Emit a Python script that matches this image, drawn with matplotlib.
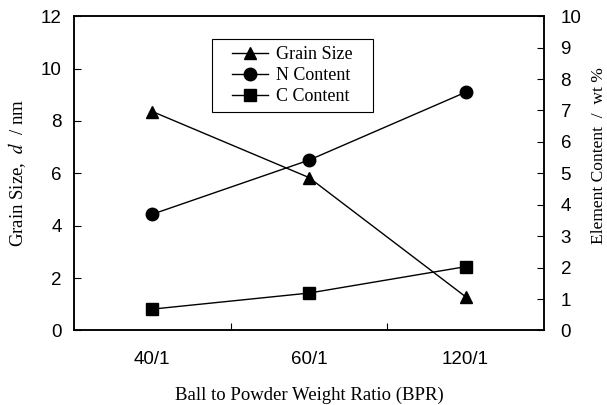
"""
Grain size and N / C content of milled powder versus ball-to-powder weight ratio.
Grain size on the left axis, element content on the right axis.
"""

import matplotlib

matplotlib.use("Agg")
import matplotlib.pyplot as plt
from matplotlib.lines import Line2D
from matplotlib.patches import Rectangle

# data
bpr_labels = ["40/1", "60/1", "120/1"]
grain_size_nm = [8.36, 5.84, 1.29]
n_content_wt = [3.70, 5.42, 7.58]
c_content_wt = [0.68, 1.19, 2.03]

plt.rcParams["mathtext.fontset"] = "stix"

SANS = "Liberation Sans"
SERIF = "Liberation Serif"


def main():
    fig = plt.figure(figsize=(6.07, 4.05), dpi=100)
    ax = fig.add_axes([0.122, 0.184, 0.774, 0.776])
    ax2 = ax.twinx()

    x = list(range(len(bpr_labels)))
    line_kw = dict(color="black", lw=1.0, markersize=9)

    ax.plot(x, grain_size_nm, marker="^", **line_kw)
    ax2.plot(x, n_content_wt, marker="o", **line_kw)
    ax2.plot(x, c_content_wt, marker="s", **line_kw)

    ax.set_xlim(-0.5, len(bpr_labels) - 0.5)
    ax.set_ylim(0, 12)
    ax2.set_ylim(0, 10)
    ax.set_yticks(range(0, 13, 2))
    ax2.set_yticks(range(0, 11))

    # category boundaries carry the minor tick marks, labels sit between them
    ax.set_xticks(x)
    ax.set_xticklabels(bpr_labels)
    ax.set_xticks([0.5, 1.5], minor=True)
    ax.tick_params(axis="x", which="major", length=0, pad=15)
    ax.tick_params(axis="x", which="minor", direction="in", length=5, width=0.8)
    ax.tick_params(axis="y", direction="in", length=5, width=0.8, pad=9)
    ax2.tick_params(axis="y", direction="in", length=5, width=0.8, pad=12)

    for a in (ax, ax2):
        for lab in a.get_xticklabels() + a.get_yticklabels():
            lab.set_fontfamily(SANS)
            lab.set_fontsize(13.5)
        for sp in a.spines.values():
            sp.set_linewidth(1.1)

    ax.set_xlabel("Ball to Powder Weight Ratio (BPR)", family=SERIF, fontsize=13.5, labelpad=13)
    ax.set_ylabel(r"Grain Size,  $d$  / nm", family=SERIF, fontsize=13.5, labelpad=9)
    ax2.set_ylabel("Element Content  /  wt %", family=SERIF, fontsize=12.6)
    ax2.yaxis.set_label_coords(1.1, 0.555)

    handles = [
        Line2D([], [], marker="^", **line_kw),
        Line2D([], [], marker="o", **line_kw),
        Line2D([], [], marker="s", **line_kw),
    ]
    leg = ax.legend(
        handles,
        ["Grain Size", "N Content", "C Content"],
        loc="upper left",
        bbox_to_anchor=(0.336, 0.905),
        prop={"family": SERIF, "size": 13},
        frameon=False,
        handlelength=2.0,
        handletextpad=0.45,
        labelspacing=0.22,
        borderpad=0,
        borderaxespad=0,
    )

    # legend frame with wider side margins than the matplotlib frame allows
    fig.canvas.draw()
    bb = leg.get_window_extent()
    pad_x, pad_y = 20, 7
    frame = Rectangle(
        (bb.x0 - pad_x, bb.y0 - pad_y),
        bb.width + 2 * pad_x,
        bb.height + 2 * pad_y,
        transform=None,
        fill=False,
        edgecolor="black",
        linewidth=0.8,
        zorder=5,
    )
    fig.add_artist(frame)

    fig.savefig("out.png", dpi=100)


if __name__ == "__main__":
    main()
